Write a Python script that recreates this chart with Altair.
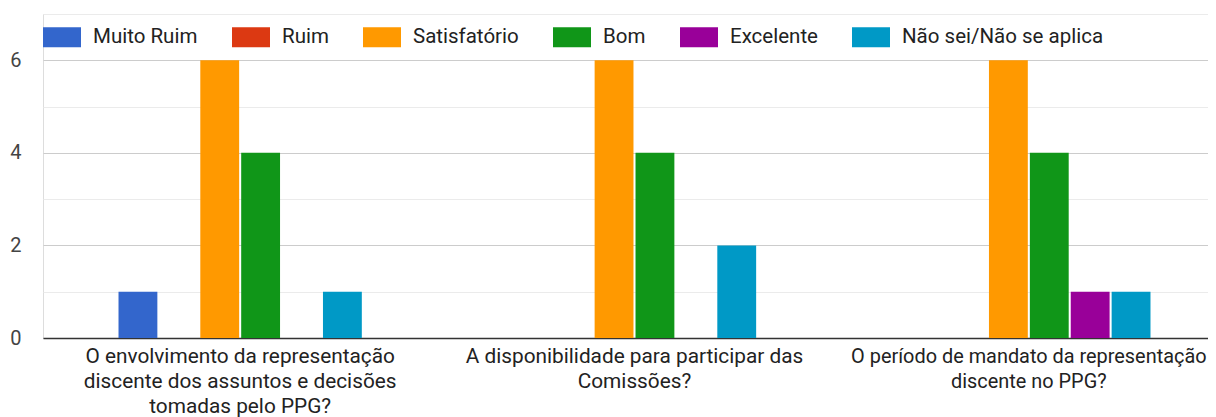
import altair as alt
import pandas as pd

categories = [
    "O envolvimento da representação|discente dos assuntos e decisões|tomadas pelo PPG?",
    "A disponibilidade para participar das|Comissões?",
    "O período de mandato da representação|discente no PPG?",
]
series = ["Muito Ruim", "Ruim", "Satisfatório", "Bom", "Excelente", "Não sei/Não se aplica"]
colors = ["#3366cc", "#dc3912", "#ff9900", "#109618", "#990099", "#0099c6"]
values = [
    [1, 0, 6, 4, 0, 1],
    [0, 0, 6, 4, 0, 2],
    [0, 0, 6, 4, 1, 1],
]

rows = []
for c, vals in zip(categories, values):
    for s, v in zip(series, vals):
        rows.append({"cat": c, "serie": s, "valor": v})
df = pd.DataFrame(rows)

FONT = "Roboto"

chart = alt.Chart(df).mark_bar(strokeWidth=0).encode(
    x=alt.X("cat:N", sort=categories, title=None,
            scale=alt.Scale(paddingInner=0.383, paddingOuter=0.1915, range=[0, 1183]),
            axis=alt.Axis(labelAngle=0, labelExpr="split(datum.label, '|')",
                          labelFontSize=alt.condition("datum.index == 1", alt.value(19.9), alt.value(20.8)),
                          labelColor="#222222", labelFont=FONT,
                          labelLineHeight=25, labelPadding=8, ticks=False,
                          domainColor="#333333", domainWidth=1.5, labelLimit=500)),
    xOffset=alt.XOffset("serie:N", sort=series, scale=alt.Scale(paddingInner=0.05)),
    y=alt.Y("valor:Q", title=None,
            scale=alt.Scale(domain=[0, 7], nice=False),
            axis=alt.Axis(values=[0, 1, 2, 3, 4, 5, 6, 7],
                          labelExpr="datum.value % 2 == 0 ? datum.label : ''",
                          labelFontSize=20, labelColor="#444444", labelFont=FONT,
                          labelPadding=22, ticks=False, domain=False,
                          gridColor=alt.condition("datum.value % 2 == 0", alt.value("#cccccc"), alt.value("#ebebeb")),
                          gridWidth=1.2)),
    color=alt.Color("serie:N", sort=series,
                    scale=alt.Scale(domain=series, range=colors),
                    legend=alt.Legend(title=None, orient="none", direction="horizontal",
                                      legendX=0, legendY=4,
                                      symbolType="M-1,-0.53H1V0.53H-1Z", symbolSize=1444,
                                      symbolStrokeWidth=0, symbolOpacity=1,
                                      labelFontSize=20.5, labelFont=FONT, labelColor="#222222",
                                      labelOffset=12, columnPadding=34, labelLimit=400)),
).properties(width=1165, height=324, autosize=alt.AutoSizeParams(type="none"))

chart = chart.configure_view(stroke=None).configure(padding={"left": 35, "top": 6, "right": 0, "bottom": 85})

chart.save("out.html", embed_options={"renderer": "svg", "actions": False})
